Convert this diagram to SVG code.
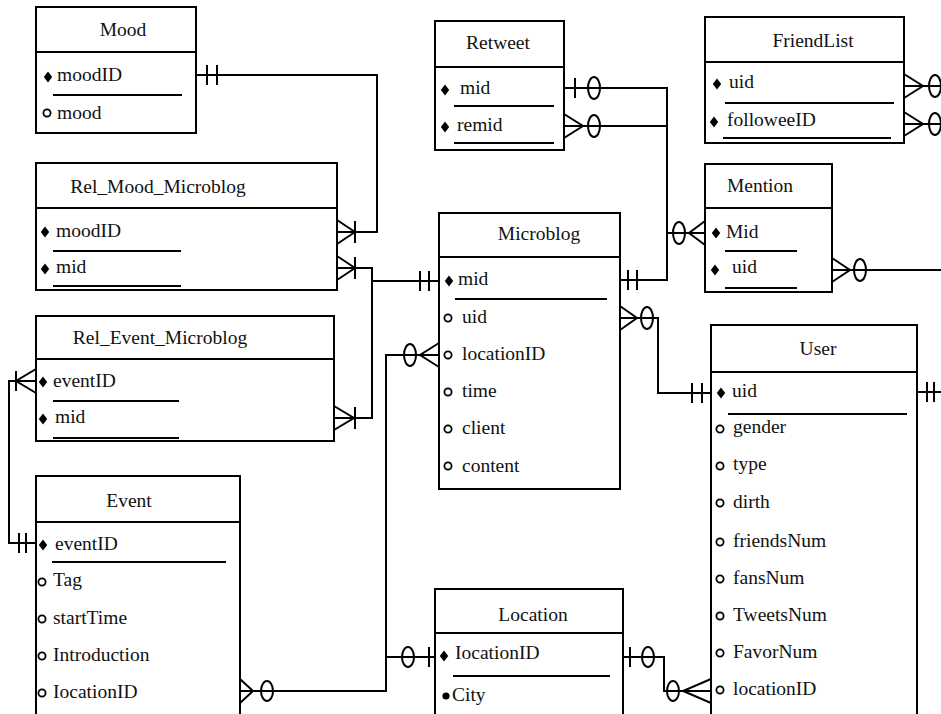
<svg xmlns="http://www.w3.org/2000/svg" xmlns:xlink="http://www.w3.org/1999/xlink" width="941" height="714" viewBox="0 0 941 714">
<style>
.box{fill:#fff;stroke:#000;stroke-width:2}
.ln{fill:none;stroke:#000;stroke-width:2}
.t{font-family:"Liberation Serif","Times New Roman",serif;font-size:19.5px;fill:#111}
.h{text-anchor:middle}
.opt{fill:none;stroke:#000;stroke-width:1.8}
.ell{fill:none;stroke:#000;stroke-width:2}
</style>
<defs>
<path id="dia" d="M0,-5.5 L4.2,0 L0,5.5 L-4.2,0Z" fill="#000"/>
<circle id="oc" r="3.6" class="opt"/>
</defs>
<rect width="941" height="714" fill="#fff"/>

<g id="connectors" class="ln">
<path d="M196,75 H377 V232 H337"/>
<path d="M207,65 V85 M217,65 V85"/>
<path d="M337,220 L355,232 L337,244 M355,221 V243"/>
<path d="M337,268 H372 V418 H334"/>
<path d="M337,256 L355,268 L337,280 M355,257 V279"/>
<path d="M334,406 L354,418 L334,430 M355,407 V429"/>
<path d="M372,281 H439"/>
<path d="M420,271 V291 M429,271 V291"/>
<path d="M36,381 H9 V543 H36"/>
<path d="M36,369 L16,381 L36,393 M16,371 V391"/>
<path d="M19,533 V553 M26,533 V553"/>
<path d="M564,88 H667 V280 H620"/>
<path d="M575,78 V98"/>
<ellipse cx="594" cy="88" rx="6" ry="11" class="ell"/>
<path d="M628,270 V290 M637,270 V290"/>
<path d="M564,126 H667"/>
<path d="M564,114 L583,126 L564,138"/>
<ellipse cx="594" cy="126" rx="6" ry="11" class="ell"/>
<path d="M667,233 H705"/>
<ellipse cx="679" cy="233" rx="6" ry="11" class="ell"/>
<path d="M705,221 L689,233 L705,245"/>
<path d="M904,86 H941"/>
<path d="M904,74 L923,86 L904,98"/>
<ellipse cx="935" cy="86" rx="6" ry="11" class="ell"/>
<path d="M904,124 H941"/>
<path d="M904,112 L923,124 L904,136"/>
<ellipse cx="935" cy="124" rx="6" ry="11" class="ell"/>
<path d="M832,270 H941"/>
<path d="M832,258 L850,270 L832,282"/>
<ellipse cx="860" cy="270" rx="6" ry="11" class="ell"/>
<path d="M620,318 H658 V393 H711"/>
<path d="M620,306 L637,318 L620,330"/>
<ellipse cx="647" cy="318" rx="6" ry="11" class="ell"/>
<path d="M692,383 V403 M702,383 V403"/>
<path d="M917,392 H941"/>
<path d="M927,382 V402 M934,382 V402"/>
<path d="M439,355 H386 V691 H240"/>
<path d="M439,343 L420,355 L439,367"/>
<ellipse cx="410" cy="355" rx="6" ry="11" class="ell"/>
<path d="M240,679 L253,691 L240,703"/>
<ellipse cx="267" cy="691" rx="6" ry="10" class="ell"/>
<path d="M386,657 H435"/>
<ellipse cx="408" cy="657" rx="6" ry="10" class="ell"/>
<path d="M429,647 V667"/>
<path d="M623,657 H664 V691 H711"/>
<path d="M630,647 V667"/>
<ellipse cx="648" cy="657" rx="6" ry="10" class="ell"/>
<ellipse cx="673" cy="691" rx="6" ry="10" class="ell"/>
<path d="M711,679 L683,691 L711,703"/>
</g>

<g id="Mood">
<rect x="36" y="7" width="160" height="126" class="box"/>
<path d="M36,52 H196 M53,95 H182" class="ln"/>
<text x="123" y="36" class="t h">Mood</text>
<use xlink:href="#dia" x="48" y="77"/><text x="57" y="81" class="t">moodID</text>
<use xlink:href="#oc" x="47" y="113"/><text x="57" y="119" class="t">mood</text>
</g>

<g id="Retweet">
<rect x="435" y="21" width="129" height="129" class="box"/>
<path d="M435,67 H564 M454,106 H554 M454,143 H554" class="ln"/>
<text x="498" y="49" class="t h">Retweet</text>
<use xlink:href="#dia" x="445" y="90"/><text x="460" y="94" class="t">mid</text>
<use xlink:href="#dia" x="445" y="127"/><text x="457" y="131" class="t">remid</text>
</g>

<g id="FriendList">
<rect x="705" y="17" width="199" height="126" class="box"/>
<path d="M705,62 H904 M725,103 H894 M723,138 H891" class="ln"/>
<text x="813" y="47" class="t h">FriendList</text>
<use xlink:href="#dia" x="717" y="84"/><text x="729" y="88" class="t">uid</text>
<use xlink:href="#dia" x="714" y="122"/><text x="727" y="126" class="t">followeeID</text>
</g>

<g id="Mention">
<rect x="705" y="164" width="127" height="128" class="box"/>
<path d="M705,208 H832 M725,251 H797 M725,288 H797" class="ln"/>
<text x="760" y="192" class="t h">Mention</text>
<use xlink:href="#dia" x="716" y="233"/><text x="726" y="238" class="t">Mid</text>
<use xlink:href="#dia" x="715" y="270"/><text x="732" y="273" class="t">uid</text>
</g>

<g id="Rel_Mood_Microblog">
<rect x="36" y="163" width="301" height="127" class="box"/>
<path d="M36,208 H337 M53,251 H181 M53,286 H181" class="ln"/>
<text x="158" y="193" class="t h">Rel_Mood_Microblog</text>
<use xlink:href="#dia" x="45" y="232"/><text x="56" y="237" class="t">moodID</text>
<use xlink:href="#dia" x="45" y="269"/><text x="56" y="273" class="t">mid</text>
</g>

<g id="Rel_Event_Microblog">
<rect x="36" y="316" width="298" height="125" class="box"/>
<path d="M36,359 H334 M53,401 H179 M53,438 H179" class="ln"/>
<text x="160" y="344" class="t h">Rel_Event_Microblog</text>
<use xlink:href="#dia" x="43" y="382"/><text x="53" y="387" class="t">eventID</text>
<use xlink:href="#dia" x="43" y="419"/><text x="55" y="423" class="t">mid</text>
</g>

<g id="Microblog">
<rect x="439" y="213" width="181" height="276" class="box"/>
<path d="M439,257 H620 M455,299 H607" class="ln"/>
<text x="539" y="240" class="t h">Microblog</text>
<use xlink:href="#dia" x="449" y="281"/><text x="458" y="285" class="t">mid</text>
<use xlink:href="#oc" x="448" y="318"/><text x="462" y="323" class="t">uid</text>
<use xlink:href="#oc" x="448" y="355"/><text x="462" y="360" class="t">locationID</text>
<use xlink:href="#oc" x="448" y="392"/><text x="462" y="397" class="t">time</text>
<use xlink:href="#oc" x="448" y="429"/><text x="462" y="434" class="t">client</text>
<use xlink:href="#oc" x="448" y="466"/><text x="462" y="472" class="t">content</text>
</g>

<g id="User">
<rect x="711" y="325" width="206" height="400" class="box"/>
<path d="M711,372 H917 M728,414 H907" class="ln"/>
<text x="818" y="355" class="t h">User</text>
<use xlink:href="#dia" x="721" y="393"/><text x="732" y="397" class="t">uid</text>
<use xlink:href="#oc" x="720" y="429"/><text x="733" y="433" class="t">gender</text>
<use xlink:href="#oc" x="720" y="466"/><text x="733" y="470" class="t">type</text>
<use xlink:href="#oc" x="720" y="503"/><text x="733" y="508" class="t">dirth</text>
<use xlink:href="#oc" x="720" y="542"/><text x="733" y="547" class="t">friendsNum</text>
<use xlink:href="#oc" x="720" y="579"/><text x="733" y="584" class="t">fansNum</text>
<use xlink:href="#oc" x="720" y="616"/><text x="733" y="621" class="t">TweetsNum</text>
<use xlink:href="#oc" x="720" y="653"/><text x="733" y="658" class="t">FavorNum</text>
<use xlink:href="#oc" x="720" y="690"/><text x="733" y="695" class="t">locationID</text>
</g>

<g id="Event">
<rect x="36" y="476" width="204" height="250" class="box"/>
<path d="M36,522 H240 M52,562 H226" class="ln"/>
<text x="129" y="507" class="t h">Event</text>
<use xlink:href="#dia" x="43" y="545"/><text x="55" y="550" class="t">eventID</text>
<use xlink:href="#oc" x="42" y="582"/><text x="53" y="586" class="t">Tag</text>
<use xlink:href="#oc" x="42" y="619"/><text x="53" y="624" class="t">startTime</text>
<use xlink:href="#oc" x="42" y="656"/><text x="53" y="661" class="t">Introduction</text>
<use xlink:href="#oc" x="42" y="693"/><text x="53" y="698" class="t">IocationID</text>
</g>

<g id="Location">
<rect x="435" y="589" width="188" height="140" class="box"/>
<path d="M435,633 H623 M453,676 H610" class="ln"/>
<text x="533" y="621" class="t h">Location</text>
<use xlink:href="#dia" x="444" y="656"/><text x="455" y="659" class="t">IocationID</text>
<circle cx="446" cy="696" r="3.6" fill="#000"/><text x="452" y="701" class="t">City</text>
</g>
</svg>
